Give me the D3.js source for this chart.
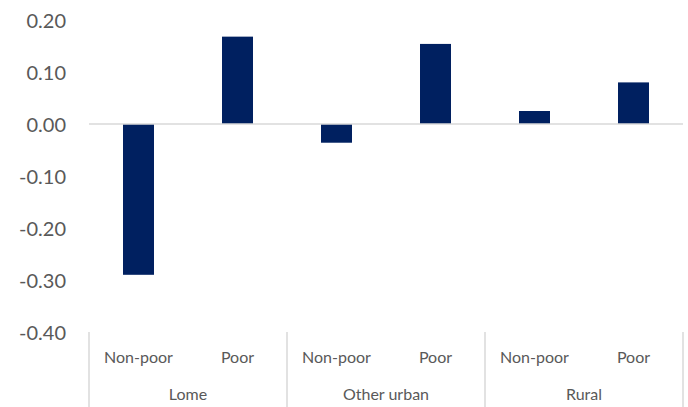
<!DOCTYPE html>
<html>
<head>
<meta charset="utf-8">
<script src="https://cdn.jsdelivr.net/npm/d3@7"></script>
<style>
  html, body { margin: 0; padding: 0; background: #ffffff; }
  svg text { font-family: Lato, "Open Sans", "Liberation Sans", sans-serif; fill: #595959; }
</style>
</head>
<body>
<svg id="chart" width="688" height="407"></svg>
<script>
// Regions and poverty status
const groups = ["Lome", "Other urban", "Rural"];
const statuses = ["Non-poor", "Poor"];
// Values in order: Lome (Non-poor, Poor), Other urban (...), Rural (...)
const values = [-0.290, 0.168, -0.036, 0.154, 0.025, 0.080];
const yTicks = [0.20, 0.10, 0.00, -0.10, -0.20, -0.30, -0.40];

const rows = [];
groups.forEach((g, gi) => statuses.forEach((s, si) => {
  rows.push({ key: g + "|" + s, group: g, status: s, value: values[gi * statuses.length + si] });
}));

const svg = d3.select("#chart");
const plotLeft = 89, plotRight = 683, plotTop = 20, plotBottom = 332;

const x = d3.scaleBand()
  .domain(rows.map(d => d.key))
  .range([plotLeft, plotRight])
  .paddingInner(0.687)
  .paddingOuter(0.3435);

const y = d3.scaleLinear().domain([-0.40, 0.20]).range([plotBottom, plotTop]);

// Tick format with a plain hyphen for negatives
const fmt = d3.formatLocale({ decimal: ".", thousands: ",", grouping: [3], currency: ["", ""], minus: "-" }).format(".2f");

// Y tick labels
svg.append("g")
  .selectAll("text")
  .data(yTicks)
  .join("text")
  .attr("x", 66)
  .attr("y", d => y(d) + 7.5)
  .attr("text-anchor", "end")
  .style("font-size", "20px")
  .text(d => fmt(d));

// Bars
svg.append("g")
  .selectAll("rect")
  .data(rows)
  .join("rect")
  .attr("x", d => x(d.key))
  .attr("width", x.bandwidth())
  .attr("y", d => y(Math.max(0, d.value)))
  .attr("height", d => Math.abs(y(d.value) - y(0)))
  .attr("fill", "#002060");

// Zero line
svg.append("line")
  .attr("x1", plotLeft).attr("x2", plotRight)
  .attr("y1", y(0)).attr("y2", y(0))
  .attr("stroke", "#d9d9d9")
  .attr("stroke-width", 1.5);

// Category axis: status labels, group labels, separators
const groupWidth = (plotRight - plotLeft) / groups.length;
const sep = d3.range(groups.length + 1).map(i => plotLeft + i * groupWidth);

svg.append("g")
  .selectAll("line")
  .data(sep)
  .join("line")
  .attr("x1", d => d).attr("x2", d => d)
  .attr("y1", plotBottom).attr("y2", 407)
  .attr("stroke", "#d9d9d9")
  .attr("stroke-width", 1.5);

svg.append("g")
  .selectAll("text")
  .data(rows)
  .join("text")
  .attr("x", d => x(d.key) + x.bandwidth() / 2)
  .attr("y", 363)
  .attr("text-anchor", "middle")
  .style("font-size", "16px")
  .text(d => d.status);

svg.append("g")
  .selectAll("text")
  .data(groups)
  .join("text")
  .attr("x", (d, i) => plotLeft + (i + 0.5) * groupWidth)
  .attr("y", 400)
  .attr("text-anchor", "middle")
  .style("font-size", "16px")
  .text(d => d);
</script>
</body>
</html>
